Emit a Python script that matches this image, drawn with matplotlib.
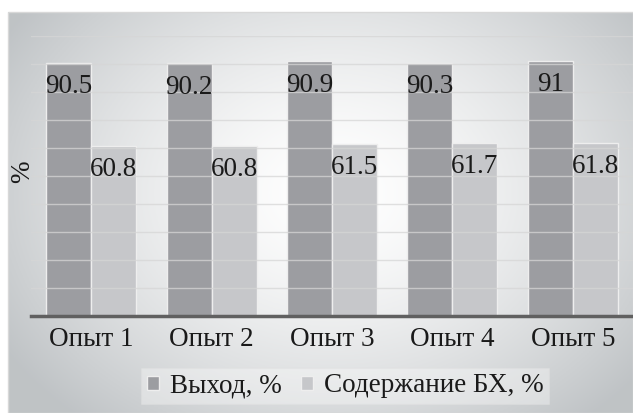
import numpy as np
import matplotlib.pyplot as plt

plt.rcParams['font.family'] = ['Liberation Serif', 'DejaVu Serif']

categories = ['Опыт 1', 'Опыт 2', 'Опыт 3', 'Опыт 4', 'Опыт 5']
vyhod = [90.5, 90.2, 90.9, 90.3, 91]
soderzhanie = [60.8, 60.8, 61.5, 61.7, 61.8]
series_names = ['Выход, %', 'Содержание БХ, %']

dark = '#9c9da1'
light = '#c6c7ca'
txtc = '#1a1a1a'
fs = 19.5

fig = plt.figure(figsize=(6.33, 4.13), dpi=100)

# gradient background of the chart frame
bg = fig.add_axes([8/633, 0, 1 - 8/633, 401/413], zorder=0)
xx, yy = np.meshgrid(np.linspace(0, 1, 300), np.linspace(0, 1, 200))
r = np.sqrt(((xx - 0.52) / 0.62) ** 2 + ((yy - 0.55) / 0.75) ** 2)
t = np.clip(r, 0, 1) ** 1.5
edge = np.array([0.75, 0.765, 0.775])
img = (1 - t)[..., None] * np.ones(3) + t[..., None] * edge
bg.imshow(img, aspect='auto', extent=[0, 1, 0, 1], origin='lower')
bg.set_xlim(0, 1)
bg.set_ylim(0, 1)
bg.axis('off')
fig.patches.append(plt.Rectangle((8/633, 0), 1 - 8/633, 401/413, transform=fig.transFigure,
                                 fill=False, edgecolor='#d8d8d8', linewidth=1, zorder=1))

ax = fig.add_axes([31/633, 97/413, 602/633, 280/413], zorder=2)
ax.patch.set_alpha(0)

x = np.arange(len(categories))
w = 0.374
b1 = ax.bar(x - w/2, vyhod, w, color=dark, edgecolor='#eeeeee', linewidth=1, label=series_names[0], zorder=2)
b2 = ax.bar(x + w/2, soderzhanie, w, color=light, edgecolor='#eeeeee', linewidth=1, label=series_names[1], zorder=2)

for bars, vals in [(b1, vyhod), (b2, soderzhanie)]:
    for rect, v in zip(bars, vals):
        ax.annotate(f'{v:g}', (rect.get_x() + rect.get_width()/2, v), xytext=(0, -17),
                    textcoords='offset points', ha='center', va='center',
                    fontsize=fs, color=txtc, zorder=4)

ax.set_xlim(-0.5, 4.5)
ax.set_ylim(0, 100)
ax.set_yticks(np.arange(10, 101, 10))
ax.set_yticklabels([])
ax.tick_params(axis='y', length=0)
ax.grid(axis='y', color='#d6d6d6', alpha=0.75, linewidth=1, zorder=3)
ax.set_axisbelow(False)
for s in ['top', 'right', 'left']:
    ax.spines[s].set_visible(False)
ax.spines['bottom'].set_color('#606060')
ax.spines['bottom'].set_linewidth(2.5)
ax.spines['bottom'].set_zorder(5)

ax.set_xticks(x)
ax.set_xticklabels(categories, fontsize=fs, color=txtc)
ax.tick_params(axis='x', length=0, pad=8)
fig.text(23/633, (413 - 172)/413, '%', rotation=90, ha='center', va='center',
         fontsize=fs, color=txtc, zorder=5)

leg = fig.legend(handles=[b1, b2], labels=series_names, loc='center', bbox_to_anchor=(345/633, 27/413),
                 ncol=2, fontsize=fs, frameon=True, fancybox=False, handlelength=0.45,
                 handleheight=0.45, handletextpad=0.4, columnspacing=0.7, borderpad=0.2)
leg.get_frame().set_facecolor('white')
leg.get_frame().set_alpha(0.35)
leg.get_frame().set_edgecolor('#e0e0e0')
leg.get_frame().set_linewidth(0.8)
for txt in leg.get_texts():
    txt.set_color(txtc)

fig.savefig('out.png', dpi=100)
